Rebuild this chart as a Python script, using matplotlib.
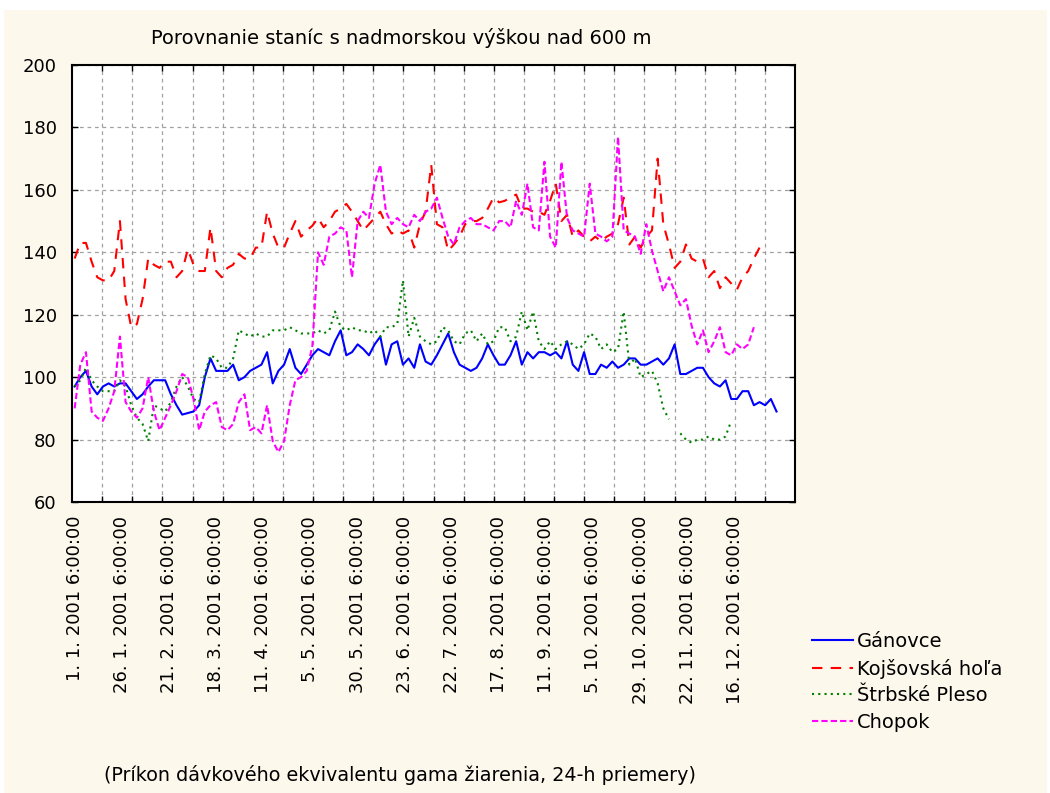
import matplotlib.pyplot as plt
import numpy as np
from matplotlib.patches import Rectangle

plt.rcParams['font.family'] = ['DejaVu Sans']

## data: values read every 3rd case (case 1, 4, 7, ...)
step = 3

ganovce = [97, 100, 102, 97, 94.5, 97, 98, 97, 98, 98, 95.5, 93, 94.5, 97, 99, 99, 99, 94.5, 91, 88, 88.5, 89, 91, 100, 106, 102,
           102, 102, 104, 99, 100, 102, 103, 104, 108, 98, 102, 104, 109, 103, 101, 104, 107, 109, 108, 107, 111.5, 115, 107, 108, 110.5,
           109, 107, 110.5, 113, 104, 110.5, 111.5, 104, 106, 103, 110.5, 105, 104, 107, 110.5, 114, 108, 104, 103, 102, 103, 106, 110.5, 107, 104,
           104, 107, 111.5, 104, 108, 106, 108, 108, 107, 108, 106, 111.5, 104, 102, 108, 101, 101, 104, 103, 105, 103, 104, 106, 106, 104,
           104, 105, 106, 104, 106, 110.5, 101, 101, 102, 103, 103, 100, 98, 97, 99, 93, 93, 95.5, 95.5, 91, 92, 91, 93, 89]

kojsovska = [138, 143, 143, 137, 132, 131, 131, 134, 150, 125, 116, 117, 125, 138, 136, 135, 137, 137, 132, 134, 141, 136, 134, 134, 148, 134,
             132, 135, 136, 139.5, 138, 138, 141.5, 141.5, 153, 146, 141.5, 141.5, 146, 150, 145, 147, 148.5, 151, 148, 150, 153, 154, 155.5, 153, 150,
             147, 149, 151, 153, 149, 146, 147, 146, 147, 141.5, 149, 153, 168, 149, 148, 140.5, 142.5, 145, 149, 150, 150, 151, 154, 157.5, 156,
             156.5, 157.5, 158.5, 154, 154, 153, 153, 152, 156.5, 162, 150, 152, 145, 147, 145, 143.5, 145, 143.5, 145, 146, 149, 157.5, 142.5, 145, 141.5,
             145, 147, 170, 149, 142.5, 135, 137, 142.5, 138, 137, 138, 132, 134, 128.5, 132, 130, 128, 132, 134, 138, 141.5]

strbske = [97, 99, 103, 99, 97, 95.5, 95.5, 95.5, 99, 97, 91, 87, 85, 79.5, 91, 90, 89, 92, 97, 100, 97, 93, 92, 101, 107, 106,
           103, 103, 106, 115, 114, 113, 114, 113, 113, 115, 115, 115, 116, 115, 114, 114, 114, 115, 114, 115, 121, 116, 115, 116, 115,
           115, 114, 115, 113, 116, 116, 117, 131, 113, 119, 113, 111.5, 110.5, 111.5, 116, 115, 111.5, 110.5, 114, 115, 111.5, 114, 110.5, 111.5, 116,
           116, 111.5, 113, 121, 115, 121, 111.5, 109, 111.5, 109, 110.5, 111.5, 110.5, 109, 110.5, 114, 113, 109, 110.5, 108, 109, 121, 104, 106, 100,
           101, 102, 98, 90, 86.5, np.nan, 82, 80, 79, 80, 80, 81, 80, 80, 81, 86]

chopok = [90, 104, 108, 89, 87, 86, 90, 95.5, 113, 92, 89, 87, 90, 100, 89, 83, 87, 91, 95.5, 101, 100, 93, 83, 89, 91, 92,
          84, 83, 85, 92, 94.5, 83, 84, 82, 91, 79.5, 76, 79.5, 91, 99, 100, 102, 110, 140, 136, 145, 146, 148, 147, 132, 150,
          153, 151, 162, 168, 153, 149, 151, 149, 148, 152, 150, 153, 154, 157.5, 151, 145, 142.5, 148, 150, 151, 149, 149, 148, 147, 150,
          150, 148, 156.5, 152, 162, 148, 147, 169, 145, 141.5, 169, 151, 147, 146, 145, 162, 146, 145, 143.5, 145, 177, 147, 146, 145, 139.5,
          149, 140.5, 134, 127.5, 132, 127.5, 123, 125, 116.5, 110.5, 115, 108, 111.5, 116, 108, 107, 110.5, 109, 110.5, 116]

names = ['Gánovce', 'Kojšovská hoľa', 'Štrbské Pleso', 'Chopok']
tick_cases = np.arange(1, 352, 25)
tick_labels = ['1. 1. 2001 6:00:00', '26. 1. 2001 6:00:00', '21. 2. 2001 6:00:00',
               '18. 3. 2001 6:00:00', '11. 4. 2001 6:00:00', '5. 5. 2001 6:00:00',
               '30. 5. 2001 6:00:00', '23. 6. 2001 6:00:00', '22. 7. 2001 6:00:00',
               '17. 8. 2001 6:00:00', '11. 9. 2001 6:00:00', '5. 10. 2001 6:00:00',
               '29. 10. 2001 6:00:00', '22. 11. 2001 6:00:00', '16. 12. 2001 6:00:00']

W, H = 1050, 793
fig = plt.figure(figsize=(W / 100, H / 100), dpi=100, facecolor='white')
fig.patches.append(Rectangle((4 / W, 0), 1043 / W, 783 / H, transform=fig.transFigure,
                             facecolor='#FDF8EC', edgecolor='none', zorder=-10))

ax = fig.add_axes([72 / W, 1 - 502 / H, 723 / W, 437 / H])
ax.set_facecolor('white')

styles = [dict(color='#0000FF', ls='-'),
          dict(color='#FF0000', dashes=(5, 4)),
          dict(color='#008000', dashes=(1, 2)),
          dict(color='#FF00FF', dashes=(3, 1.5))]
for vals, name, st in zip([ganovce, kojsovska, strbske, chopok], names, styles):
    x = 1 + step * np.arange(len(vals))
    ax.plot(x, vals, lw=1.5, label=name, **st)

xmin, xmax = -0.4, 382.8
ax.set_xlim(xmin, xmax)
ax.set_ylim(60, 200)
ax.set_yticks(range(60, 201, 20))
ax.set_xticks(tick_cases, tick_labels, rotation=90)
ax.set_xticks(np.linspace(xmin, xmax, 25)[1:-1], minor=True)
ax.tick_params(axis='x', which='major', length=0, pad=10, labelsize=13)
ax.tick_params(axis='x', which='minor', direction='in', top=True, bottom=True, length=4, width=1)
ax.tick_params(axis='y', direction='in', left=True, right=True, length=4, width=1, pad=11, labelsize=13)
ax.grid(True, which='minor', axis='x', color='#A0A0A0', lw=0.9, ls=(0, (3, 3)))
ax.grid(True, which='major', axis='y', color='#A0A0A0', lw=0.9, ls=(0, (3, 3)))
ax.grid(False, which='major', axis='x')
for sp in ax.spines.values():
    sp.set_linewidth(1.5)

fig.text(401 / W, 1 - 38 / H, 'Porovnanie staníc s nadmorskou výškou nad 600 m',
         ha='center', va='center', fontsize=14)
fig.text(400 / W, 1 - 775 / H, '(Príkon dávkového ekvivalentu gama žiarenia, 24-h priemery)',
         ha='center', va='center', fontsize=13.8)

fig.legend(loc='upper left', bbox_to_anchor=(812 / W, 1 - 632 / H), frameon=False,
           fontsize=14, handlelength=2.1, handletextpad=0.2, labelspacing=0.39,
           borderpad=0, borderaxespad=0)

fig.savefig('out.png', dpi=100, facecolor=fig.get_facecolor())
